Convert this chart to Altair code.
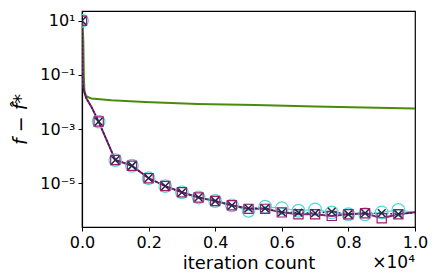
import altair as alt
import pandas as pd

# ---- data (log10 of f - f*) ----
marker_iter = [0, 500, 1000, 1500, 2000, 2500, 3000, 3500, 4000, 4500,
               5000, 5500, 6000, 6500, 7000, 7500, 8000, 8500, 9000, 9500]
circle_log = [1.0, -2.72, -4.14, -4.35, -4.81, -5.10, -5.33, -5.52, -5.65, -5.81,
              -6.01, -5.86, -5.92, -6.01, -5.96, -6.07, -6.14, -6.14, -6.07, -5.98]
square_log = [1.0, -2.72, -4.14, -4.35, -4.81, -5.10, -5.33, -5.52, -5.65, -5.81,
              -5.94, -5.94, -6.07, -6.14, -6.14, -6.20, -6.14, -6.10, -6.29, -6.14]
xmark_log = [1.0, -2.72, -4.14, -4.35, -4.81, -5.10, -5.33, -5.52, -5.65, -5.81,
             -5.92, -5.92, -6.07, -6.08, -6.10, -6.04, -6.14, -6.10, -6.10, -6.14]

early_iter = [25, 60, 130, 280]
early_log = [-1.30, -1.60, -1.86, -2.17]
end_iter = 10000
end_log = -6.07

green_iter = [0, 20, 40, 55, 70, 100, 150, 280, 880, 1880, 3470, 5210, 7000, 10000]
green_log = [1.0, 0.85, 0.2, -1.0, -1.55, -1.72, -1.80, -1.87, -1.93, -2.00,
             -2.07, -2.11, -2.16, -2.24]

x_ticks = [0, 2000, 4000, 6000, 8000, 10000]
y_ticks = [10, 0.1, 0.001, 0.00001]


def series_line(name, logs):
    its = [marker_iter[0]] + early_iter + marker_iter[1:] + [end_iter]
    vals = [logs[0]] + early_log + logs[1:] + [end_log]
    return pd.DataFrame({"it": its, "v": [10 ** v for v in vals], "s": name})


def series_marks(name, logs):
    return pd.DataFrame({"it": marker_iter, "v": [10 ** v for v in logs], "s": name})


green_df = pd.DataFrame({"it": green_iter, "v": [10 ** v for v in green_log]})
cyan_line = series_line("c", circle_log)
purple_line = series_line("p", square_log)
navy_line = series_line("n", xmark_log)
circ = series_marks("c", circle_log)
sq = series_marks("p", square_log)
xm = series_marks("n", xmark_log)

W, H = 333, 216
ydom = [10 ** -6.61, 10 ** 1.36]
X = alt.X("it:Q", scale=alt.Scale(domain=[0, 10000], nice=False, zero=False),
          axis=alt.Axis(values=x_ticks, labelFlush=False,
                        labelExpr="format(datum.value/10000, '.1f')",
                        title="iteration count", grid=False, titlePadding=4))
Y = alt.Y("v:Q", scale=alt.Scale(type="log", domain=ydom, nice=False),
          axis=alt.Axis(values=y_ticks, labelFlush=False,
                        labelExpr="datum.value >= 1 ? '10¹' : datum.value > 0.05 ? '10⁻¹' : datum.value > 0.0005 ? '10⁻³' : '10⁻⁵'",
                        title="f − f̂*", grid=False, titleFontStyle="italic",
                        titleFontSize=19, titlePadding=9))

green = alt.Chart(green_df).mark_line(color="#4b8b0b", strokeWidth=2, clip=True).encode(x=X, y=Y)
cl = alt.Chart(cyan_line).mark_line(color="#48d1cc", strokeWidth=1, clip=True).encode(x=X, y=Y)
pl = alt.Chart(purple_line).mark_line(color="#8a1f78", strokeWidth=2, clip=True).encode(x=X, y=Y)
nl = alt.Chart(navy_line).mark_line(color="#1f2a44", strokeWidth=1.5, strokeDash=[2, 2], clip=True).encode(x=X, y=Y)
cm = alt.Chart(circ).mark_point(shape="circle", size=160, filled=False, color="#56d8d8",
                                strokeWidth=1.2, opacity=1, clip=True).encode(x=X, y=Y)
sm = alt.Chart(sq).mark_point(shape="square", size=85, filled=False, color="#a3186f",
                              strokeWidth=1.2, opacity=1, clip=True).encode(x=X, y=Y)
xmk = alt.Chart(xm).mark_point(shape="M-1,-1L1,1M1,-1L-1,1", size=60, filled=False, color="#1f2a44",
                               strokeWidth=1.5, opacity=1, clip=True).encode(x=X, y=Y)

note = alt.Chart(pd.DataFrame({"t": ["×10⁴"]})).mark_text(
    align="right", baseline="middle", fontSize=17, font="DejaVu Sans", color="black"
).encode(x=alt.value(W), y=alt.value(H + 36), text="t:N")

chart = alt.layer(green, cl, pl, nl, cm, sm, xmk, note).properties(
    width=W, height=H,
    autosize=alt.AutoSizeParams(type="none"),
    padding={"left": 74, "top": 3, "right": 13, "bottom": 45},
).configure_view(stroke="black", strokeWidth=1.2).configure_axis(
    labelFont="DejaVu Sans", titleFont="DejaVu Sans", labelFontSize=16, titleFontSize=18,
    labelColor="black", titleColor="black", domainColor="black", tickColor="black",
    tickSize=4, labelPadding=3, titleFontWeight="normal", domainWidth=1.2
)

chart.save("out.html", embed_options={"renderer": "svg", "actions": False})
